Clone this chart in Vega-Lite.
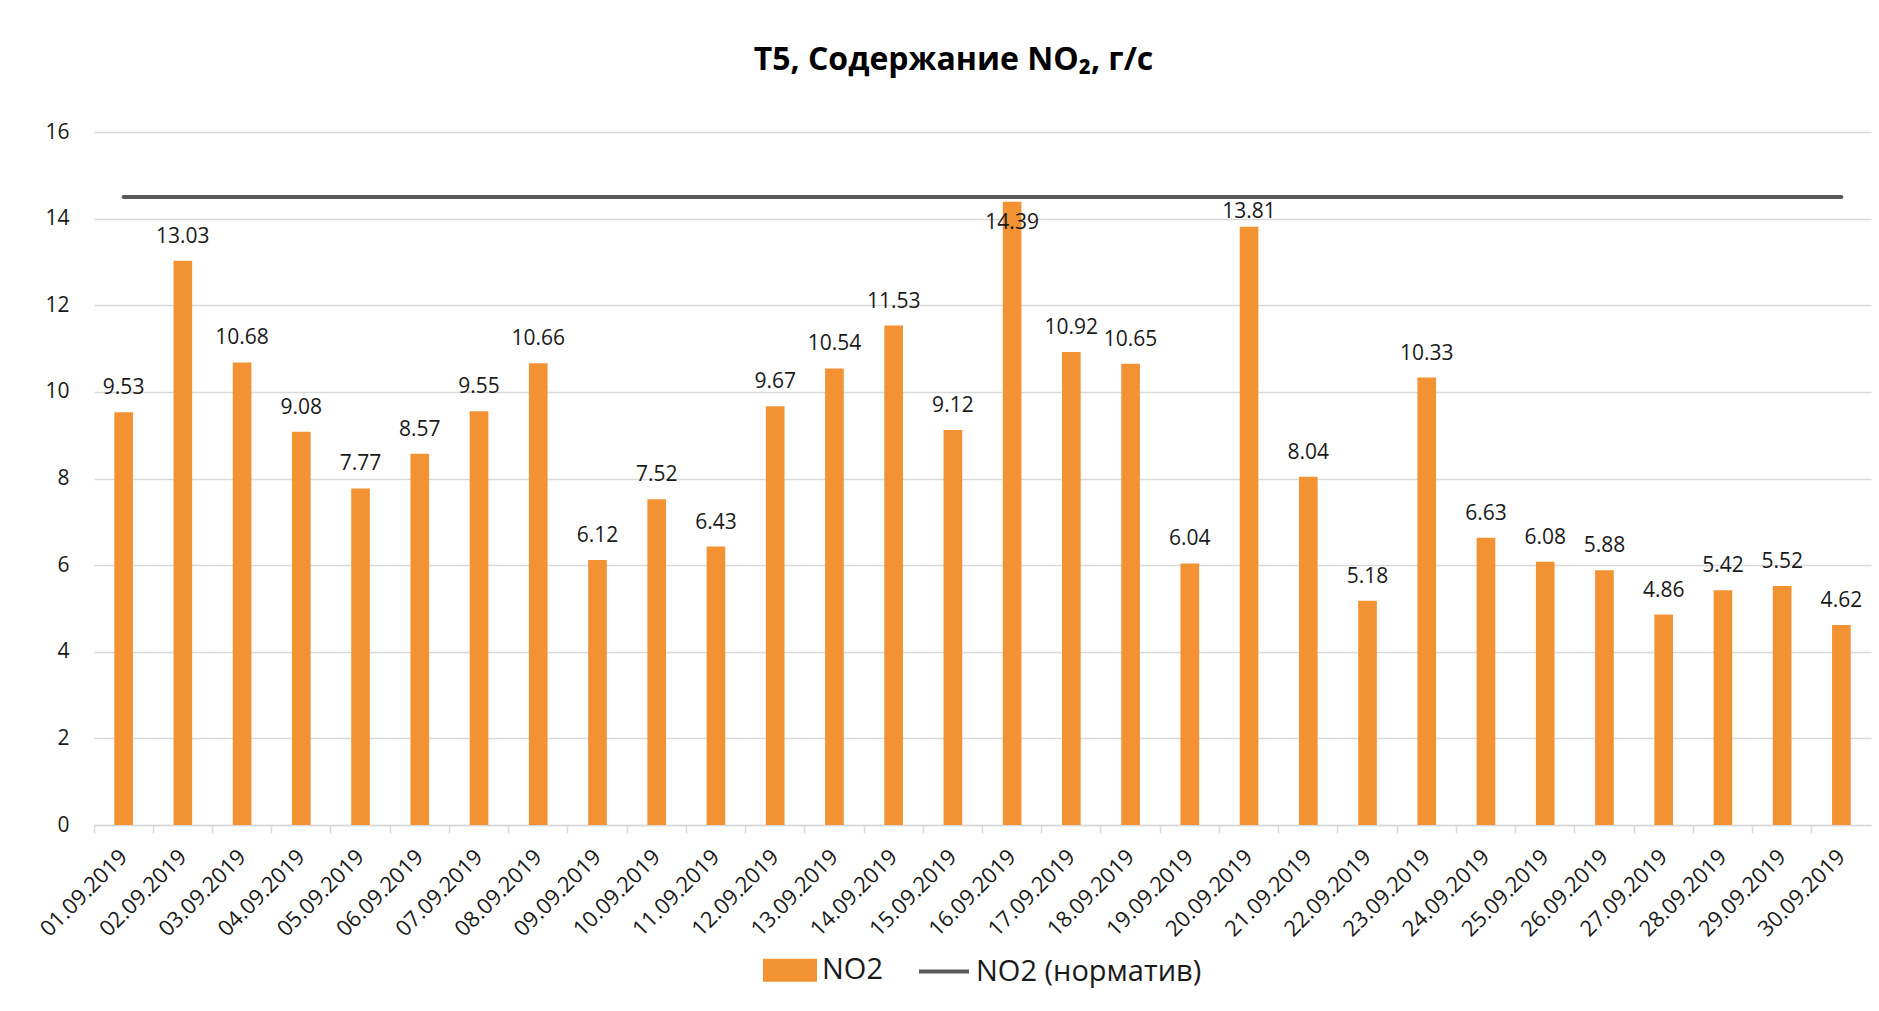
{
  "$schema": "https://vega.github.io/schema/vega-lite/v6.json",
  "width": 1777,
  "height": 693,
  "padding": {"left": 36, "top": 44, "right": 9, "bottom": 10},
  "background": "white",
  "config": {
    "font": "Open Sans",
    "view": {"stroke": null},
    "axis": {"labelColor": "#1a1a1a", "labelFont": "Open Sans"},
    "legend": {"layout": {"anchor": "middle", "bounds": "full"}}
  },
  "title": {
    "text": "T5, Содержание NO₂, г/с",
    "fontSize": 32,
    "fontWeight": "bold",
    "font": "Open Sans",
    "color": "#000000",
    "anchor": "middle",
    "frame": "bounds",
    "offset": 44
  },
  "data": {
    "values": [
      {"date": "01.09.2019", "no2": 9.53, "norm": 14.5},
      {"date": "02.09.2019", "no2": 13.03, "norm": 14.5},
      {"date": "03.09.2019", "no2": 10.68, "norm": 14.5},
      {"date": "04.09.2019", "no2": 9.08, "norm": 14.5},
      {"date": "05.09.2019", "no2": 7.77, "norm": 14.5},
      {"date": "06.09.2019", "no2": 8.57, "norm": 14.5},
      {"date": "07.09.2019", "no2": 9.55, "norm": 14.5},
      {"date": "08.09.2019", "no2": 10.66, "norm": 14.5},
      {"date": "09.09.2019", "no2": 6.12, "norm": 14.5},
      {"date": "10.09.2019", "no2": 7.52, "norm": 14.5},
      {"date": "11.09.2019", "no2": 6.43, "norm": 14.5},
      {"date": "12.09.2019", "no2": 9.67, "norm": 14.5},
      {"date": "13.09.2019", "no2": 10.54, "norm": 14.5},
      {"date": "14.09.2019", "no2": 11.53, "norm": 14.5},
      {"date": "15.09.2019", "no2": 9.12, "norm": 14.5},
      {"date": "16.09.2019", "no2": 14.39, "norm": 14.5},
      {"date": "17.09.2019", "no2": 10.92, "norm": 14.5},
      {"date": "18.09.2019", "no2": 10.65, "norm": 14.5},
      {"date": "19.09.2019", "no2": 6.04, "norm": 14.5},
      {"date": "20.09.2019", "no2": 13.81, "norm": 14.5},
      {"date": "21.09.2019", "no2": 8.04, "norm": 14.5},
      {"date": "22.09.2019", "no2": 5.18, "norm": 14.5},
      {"date": "23.09.2019", "no2": 10.33, "norm": 14.5},
      {"date": "24.09.2019", "no2": 6.63, "norm": 14.5},
      {"date": "25.09.2019", "no2": 6.08, "norm": 14.5},
      {"date": "26.09.2019", "no2": 5.88, "norm": 14.5},
      {"date": "27.09.2019", "no2": 4.86, "norm": 14.5},
      {"date": "28.09.2019", "no2": 5.42, "norm": 14.5},
      {"date": "29.09.2019", "no2": 5.52, "norm": 14.5},
      {"date": "30.09.2019", "no2": 4.62, "norm": 14.5}
    ]
  },
  "encoding": {
    "x": {
      "field": "date",
      "type": "ordinal",
      "sort": null,
      "scale": {"paddingInner": 0, "paddingOuter": 0},
      "axis": {
        "title": null,
        "labelAngle": -45,
        "labelAlign": "right",
        "labelBaseline": "middle",
        "labelFontSize": 22,
        "labelPadding": 20,
        "bandPosition": 0,
        "ticks": true,
        "tickSize": 8,
        "tickColor": "#d9d9d9",
        "tickWidth": 1.5,
        "domainColor": "#d9d9d9",
        "domainWidth": 1.5,
        "grid": false
      }
    }
  },
  "layer": [
    {
      "mark": {"type": "bar", "width": {"band": 0.315}},
      "encoding": {
        "y": {
          "field": "no2",
          "type": "quantitative",
          "scale": {"domain": [0, 16]},
          "axis": {
            "title": null,
            "values": [0, 2, 4, 6, 8, 10, 12, 14, 16],
            "labelFontSize": 21,
            "labelPadding": 25,
            "ticks": false,
            "tickSize": 0,
            "domain": false,
            "grid": true,
            "gridColor": "#d9d9d9",
            "gridWidth": 1.5
          }
        },
        "color": {
          "datum": "NO2",
          "type": "nominal",
          "scale": {"domain": ["NO2", "NO2 (норматив)"], "range": ["#F39233", "#595959"]},
          "legend": {
            "title": null,
            "orient": "bottom",
            "direction": "horizontal",
            "offset": 2,
            "labelFontSize": 29,
            "labelLimit": 600,
            "labelColor": "#1a1a1a",
            "labelOffset": 5,
            "columnPadding": 28,
            "symbolSize": 2500,
            "symbolType": "M-1,-0.38H1V0.38H-1Z",
            "encode": {
              "symbols": {
                "update": {
                  "shape": [
                    {"test": "datum.value === 'NO2'", "value": "M-1,-0.38H1V0.38H-1Z"},
                    {"value": "M-1,0H1"}
                  ],
                  "fill": [
                    {"test": "datum.value === 'NO2'", "value": "#F39233"},
                    {"value": "transparent"}
                  ],
                  "stroke": [
                    {"test": "datum.value === 'NO2'", "value": "transparent"},
                    {"value": "#595959"}
                  ],
                  "strokeWidth": {"value": 4},
                  "opacity": {"value": 1}
                }
              }
            }
          }
        }
      }
    },
    {
      "mark": {"type": "line", "strokeWidth": 4, "strokeCap": "round"},
      "encoding": {
        "y": {"field": "norm", "type": "quantitative"},
        "color": {"datum": "NO2 (норматив)", "type": "nominal"}
      }
    },
    {
      "transform": [{"filter": "datum.date !== '16.09.2019' && datum.date !== '20.09.2019'"}],
      "mark": {"type": "text", "baseline": "alphabetic", "dy": -18, "fontSize": 21, "color": "#1a1a1a"},
      "encoding": {
        "y": {"field": "no2", "type": "quantitative"},
        "text": {"field": "no2", "type": "quantitative", "format": ".2f"}
      }
    },
    {
      "transform": [{"filter": "datum.date === '20.09.2019'"}],
      "mark": {"type": "text", "baseline": "alphabetic", "dy": -9, "fontSize": 21, "color": "#1a1a1a"},
      "encoding": {
        "y": {"field": "no2", "type": "quantitative"},
        "text": {"field": "no2", "type": "quantitative", "format": ".2f"}
      }
    },
    {
      "transform": [{"filter": "datum.date === '16.09.2019'"}],
      "mark": {"type": "text", "baseline": "alphabetic", "dy": 27, "fontSize": 21, "color": "#1a1a1a"},
      "encoding": {
        "y": {"field": "no2", "type": "quantitative"},
        "text": {"field": "no2", "type": "quantitative", "format": ".2f"}
      }
    }
  ]
}
